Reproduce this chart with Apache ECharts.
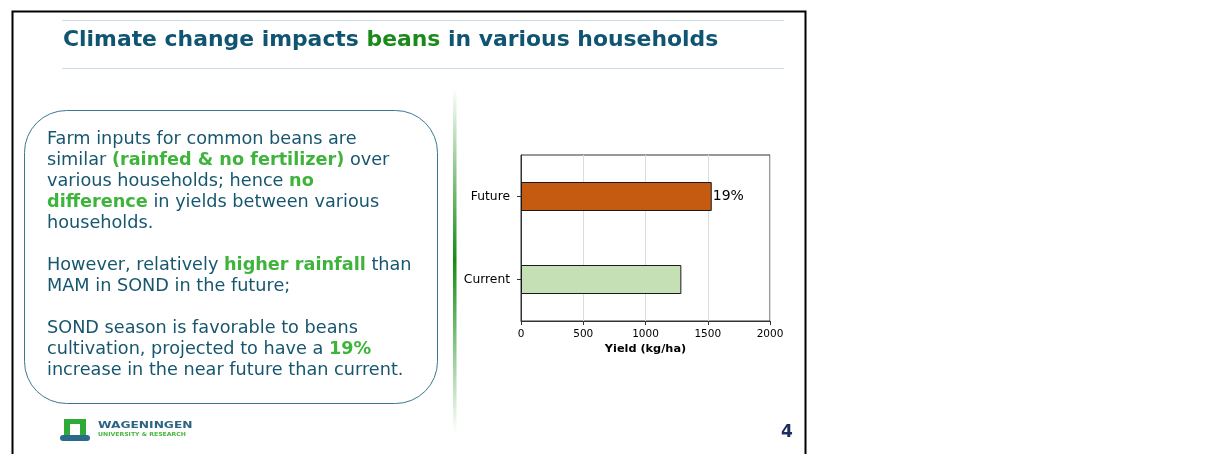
<!DOCTYPE html>
<html>
<head>
<meta charset="utf-8">
<script src="https://cdn.jsdelivr.net/npm/echarts@6/dist/echarts.min.js"></script>
<style>
html,body{margin:0;padding:0;background:#fff;}
#c{width:1221px;height:454px;}
</style>
</head>
<body>
<div id="c"></div>
<script>
var categories = ['Current', 'Future'];
var yieldValues = [1288, 1532];
var barLabels = ['', '19%'];
var xTicks = [0, 500, 1000, 1500, 2000];
var axisTitle = 'Yield (kg/ha)';

var FONT = '"DejaVu Sans", Verdana, sans-serif';
var TEAL = '#17566f';
var GREEN = '#3fb43c';

var chart = echarts.init(document.getElementById('c'), null, {renderer: 'canvas'});

var bodyText = [
  'Farm inputs for common beans are',
  'similar {g|(rainfed & no fertilizer)} over',
  'various households; hence {g|no}',
  '{g|difference} in yields between various',
  'households.',
  '',
  'However, relatively {g|higher rainfall} than',
  'MAM in SOND in the future;',
  '',
  'SOND season is favorable to beans',
  'cultivation, projected to have a {g|19%}',
  'increase in the near future than current.'
];

var graphics = [
  {type: 'rect', shape: {x: 12.5, y: 11.5, width: 793, height: 460}, style: {fill: 'none', stroke: '#000', lineWidth: 2}, silent: true},
  {type: 'line', shape: {x1: 62, y1: 20.5, x2: 784, y2: 20.5}, style: {stroke: '#cfdde6', lineWidth: 1}},
  {type: 'line', shape: {x1: 62, y1: 68.5, x2: 784, y2: 68.5}, style: {stroke: '#cfdde6', lineWidth: 1}},
  {type: 'text', x: 63, y: 40, style: {
    text: 'Climate change impacts {b|beans} in various households',
    font: 'bold 21.9px ' + FONT, fill: '#0f5470', verticalAlign: 'middle', align: 'left',
    rich: {b: {fill: '#1b8a1b', font: 'bold 21.9px ' + FONT}}
  }},
  {type: 'rect', shape: {x: 24.5, y: 110.5, width: 413, height: 293, r: 42}, style: {fill: '#fff', stroke: '#3b7893', lineWidth: 1}},
  {type: 'text', x: 47, y: 129.5, scaleX: 1.04, originX: 0, originY: 0, style: {
    text: bodyText.join('\n'),
    font: '17px ' + FONT, fill: TEAL, lineHeight: 21, verticalAlign: 'top', align: 'left',
    rich: {g: {fill: GREEN, font: 'bold 17px ' + FONT, lineHeight: 21}}
  }},
  {type: 'rect', shape: {x: 453, y: 88, width: 3.5, height: 345}, style: {
    fill: new echarts.graphic.LinearGradient(0, 0, 0, 1, [
      {offset: 0, color: 'rgba(20,140,20,0)'},
      {offset: 0.5, color: 'rgba(20,140,20,1)'},
      {offset: 1, color: 'rgba(20,140,20,0)'}
    ])
  }},
  {type: 'rect', shape: {x: 64, y: 419, width: 22, height: 17}, style: {fill: '#2eaa36'}},
  {type: 'rect', shape: {x: 70, y: 424, width: 10, height: 12}, style: {fill: '#fff'}},
  {type: 'rect', shape: {x: 60, y: 435, width: 30, height: 6, r: 3}, style: {fill: '#2c6a8c'}},
  {type: 'text', x: 98, y: 425.5, scaleX: 1.36, originX: 0, originY: 0, style: {text: 'WAGENINGEN', font: 'bold 9px ' + FONT, fill: '#2d6482', verticalAlign: 'middle'}},
  {type: 'text', x: 98, y: 434.5, scaleX: 1.12, originX: 0, originY: 0, style: {text: 'UNIVERSITY & RESEARCH', font: 'bold 5.5px ' + FONT, fill: '#45b83f', verticalAlign: 'middle'}},
  {type: 'text', x: 787, y: 433, style: {text: '4', font: 'bold 17px ' + FONT, fill: '#1b2f5e', align: 'center', verticalAlign: 'middle'}}
];

var option = {
  backgroundColor: '#fff',
  animation: false,
  grid: {left: 521, right: 451, top: 155, bottom: 133, show: true, borderColor: '#333', borderWidth: 1, backgroundColor: 'transparent'},
  xAxis: {
    type: 'value', min: xTicks[0], max: xTicks[xTicks.length - 1], interval: 500,
    name: axisTitle, nameLocation: 'middle', nameGap: 23,
    nameTextStyle: {fontFamily: FONT, fontWeight: 'bold', fontSize: 11.3, color: '#000'},
    axisLine: {show: true, lineStyle: {color: '#333'}},
    axisTick: {show: true, length: 4, lineStyle: {color: '#333'}},
    axisLabel: {fontFamily: FONT, fontSize: 10.5, color: '#000', margin: 8, formatter: function (v) { return String(v); }},
    splitLine: {show: true, lineStyle: {color: '#dcdcdc'}}
  },
  yAxis: {
    type: 'category', data: categories,
    axisLine: {show: true, lineStyle: {color: '#333'}},
    axisTick: {show: true, alignWithLabel: true, length: 4, lineStyle: {color: '#333'}},
    axisLabel: {fontFamily: FONT, fontSize: 12.3, color: '#000', margin: 11},
    splitLine: {show: false}
  },
  series: [{
    type: 'bar',
    data: yieldValues.map(function (v, i) {
      return {value: v, itemStyle: {color: i === 1 ? '#c55a11' : '#c5e0b4', borderColor: '#1a1a1a', borderWidth: 1}};
    }),
    barWidth: 29,
    label: {
      show: true, position: 'right', distance: 1,
      formatter: function (p) { return barLabels[p.dataIndex]; },
      fontFamily: FONT, fontSize: 14, color: '#000'
    }
  }],
  graphic: graphics
};
chart.setOption(option);
</script>
</body>
</html>
